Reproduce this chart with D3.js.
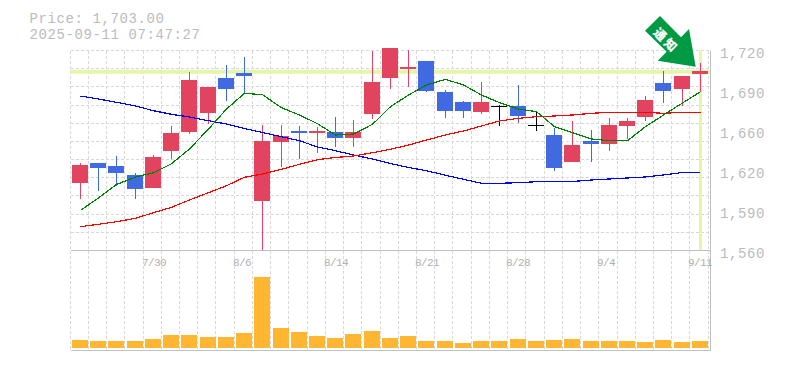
<!DOCTYPE html>
<html><head><meta charset="utf-8">
<script src="https://cdn.jsdelivr.net/npm/d3@7/dist/d3.min.js"></script>
<style>html,body{margin:0;padding:0;background:#fff}svg{display:block}
text{font-family:"Liberation Mono",monospace;fill:#bbbbbb}</style></head>
<body><svg id="c" width="785" height="370"></svg>
<script>
// Values (prices in yen)
const px2p = y => 1560 + (250.5 - y) / 1.25;
const openPx  = [183,162.7,166,175,188,151,132,112.7,78,73,201,142,131,133,132,138,114,78,69,61,92,102,112,106,106,125.3,135,162,141,144,126,117,83,89,74];
const closePx = [165,168,173,189,157,133,80,87,89,76,141,136,133,131,138,132,82,48,67,91,111,111,102,106,116,125.3,168,145,144,125,121,100,91,76,71];
const highPx  = [162.7,162.7,156,173,155,126,71.7,87,65,56.7,125,125,126,127,117,120,51,40,50,61,90,101,82,105,85,111,128,121,130,118,118,96,71,76,63];
const lowPx   = [199,191,186,199,188,159,133.7,124,100.7,93.3,250,166.7,159,153,147,147,119,89,87,92,118,118,114,126,122.7,131,171,162,162,151,139,121,103,106,91.7];
const maShortPx = [210.3,198,184.5,177,172.7,163.7,149,129,109,93.3,94.7,107.7,115,123.7,135,134,124.3,106.7,95,85,79.3,85,95,102.7,109,111.7,126.7,132.7,139,140.7,140.7,126.7,115,103,91.7];
const maMidPx   = [226.7,224.3,221.7,218.3,212.7,207.3,200,192.7,185.7,177.3,174,169.3,164.3,159.7,157.5,156,152.7,149.3,145,140,135,131,126,121,118.3,116.7,116,115,113.3,112.3,112.3,112.3,113.3,112.3,112.3];
const maLongPx  = [96,99,102.3,106,110.7,114.3,117,120.7,124,128.5,132.5,136.7,140.7,147,150.7,155,159,163.5,167.5,170.7,175.3,179.3,183.3,183.3,182.7,181.7,181.5,181.5,180,179,178,177,175,172.5,172.3];
const open = openPx.map(px2p), close = closePx.map(px2p), high = highPx.map(px2p), low = lowPx.map(px2p);
const maShort = maShortPx.map(px2p), maMid = maMidPx.map(px2p), maLong = maLongPx.map(px2p);
const volume = [8,7,7,7,9,13,13,11,11,15,71,20,16,12,10,14,17,10,12,7,7,5,7,7,9,7,8,9,7,7,7,6,8,6,7];
const xTickIdx = [4,9,14,19,24,29,34];
const xTickLabels = ["7/30","8/6","8/14","8/21","8/28","9/4","9/11"];
const yTickVals = [1720,1688,1656,1624,1592,1560];
const yTickLabels = ["1,720","1,690","1,660","1,620","1,590","1,560"];
const lastPrice = 1703;
const titleLines = ["Price: 1,703.00","2025-09-11 07:47:27"];
const badgeText = ["通","知"];

const C = {up:"#E2445F",down:"#4169E1",flat:"#000",grid:"#d8d8d8",axis:"#c0c0c0",hl:"#E5F6A8",vol:"#FFB733",
  short:"#008000",mid:"#ff0000",long:"#0000ff",badge:"#009944"};
const L=70.5,T=50.5,B=250.5,VB=350.5,AX=710.5;
const svg=d3.select("#c");
const idx=d3.range(close.length);
const xLeft=d3.scaleLinear().domain([0,34]).range([72.45,692.44]);
const barX=i=>Math.floor(xLeft(i));
const cx=i=>barX(i)+8.5;
const y=d3.scaleLinear().domain([1560,1720]).range([B,T]);
const yVol=d3.scaleLinear().domain([0,71]).range([348,277]);
const gridXs=d3.scaleLinear().domain([0,35]).range([70.1,708.2]);
const gridX=i=>Math.floor(gridXs(i))+0.5;
const gridY=d3.scaleLinear().domain([0,11]).range([T,B]);

// grid
const g=svg.append("g").attr("stroke",C.grid).attr("stroke-dasharray","3,2").attr("shape-rendering","crispEdges");
g.selectAll(".v").data(d3.range(36)).join("line").attr("x1",gridX).attr("x2",gridX).attr("y1",T).attr("y2",VB);
g.selectAll(".h").data(d3.range(11)).join("line").attr("y1",gridY).attr("y2",gridY).attr("x1",L).attr("x2",AX);

// highlight
svg.append("line").attr("x1",L).attr("x2",AX).attr("y1",y(lastPrice)).attr("y2",y(lastPrice)).attr("stroke",C.hl).attr("stroke-width",4);
svg.append("line").attr("x1",cx(34)).attr("x2",cx(34)).attr("y1",T).attr("y2",B).attr("stroke",C.hl).attr("stroke-width",3);

// frame
const fr=svg.append("g").attr("stroke",C.axis).attr("shape-rendering","crispEdges");
fr.append("line").attr("x1",L).attr("x2",AX).attr("y1",B).attr("y2",B);
fr.append("line").attr("x1",L).attr("x2",AX).attr("y1",VB).attr("y2",VB);
fr.append("line").attr("x1",AX).attr("x2",AX).attr("y1",T).attr("y2",VB);

// volume
svg.append("g").attr("shape-rendering","crispEdges").selectAll("rect").data(idx).join("rect")
 .attr("x",barX).attr("width",16)
 .attr("y",i=>yVol(volume[i])).attr("height",i=>348-yVol(volume[i])).attr("fill",C.vol);

// candles, clipped at the top like the reference
svg.append("clipPath").attr("id","pc").append("rect").attr("x",L).attr("y",48).attr("width",AX-L).attr("height",B-48);
const pane=svg.append("g").attr("clip-path","url(#pc)");
const col=i=>close[i]>open[i]?C.up:close[i]<open[i]?C.down:C.flat;
const cg=pane.append("g").attr("shape-rendering","crispEdges");
cg.selectAll(".w").data(idx).join("line").attr("x1",cx).attr("x2",cx)
  .attr("y1",i=>y(high[i])).attr("y2",i=>y(low[i])).attr("stroke",col);
cg.selectAll(".b").data(idx).join("rect").attr("x",barX).attr("width",16)
  .attr("y",i=>Math.min(y(open[i]),y(close[i])))
  .attr("height",i=>Math.max(1,Math.abs(y(open[i])-y(close[i])))).attr("fill",col);

// moving averages
const ln=s=>d3.line().x(i=>cx(i)).y(i=>y(s[i]))(idx);
[[maLong,C.long],[maMid,C.mid],[maShort,C.short]].forEach(([s,c])=>
  pane.append("path").attr("d",ln(s)).attr("fill","none").attr("stroke",c).attr("stroke-width",1.2).attr("shape-rendering","crispEdges"));

// axes labels
svg.append("g").selectAll("text").data(yTickVals).join("text")
  .attr("x",720).attr("y",d=>y(d)+7).attr("font-size",14).attr("letter-spacing",0.6).text((d,i)=>yTickLabels[i]);
svg.append("g").selectAll("text").data(xTickIdx).join("text")
  .attr("x",d=>gridX(d)-1.5).attr("y",266).attr("font-size",11).attr("letter-spacing",-0.6).style("fill","#b0b0b0").text((d,i)=>xTickLabels[i]);
svg.append("g").selectAll("text").data(titleLines).join("text")
  .attr("x",29.5).attr("y",(d,i)=>22.5+i*16).attr("font-size",14).attr("letter-spacing",0.6).text(d=>d);

// badge
const arrow=[[660,16],[645,30.7],[666.7,51.7],[657.7,60.7],[695.7,66.7],[689,29],[681,37.3]];
svg.append("polygon").attr("points",arrow.join(" ")).attr("fill",C.badge);
svg.append("g").selectAll("text").data(badgeText).join("text")
  .attr("transform",(d,i)=>`translate(${661+i*10.3},${33.7+i*10.3}) rotate(45)`)
  .attr("text-anchor","middle").attr("dominant-baseline","central")
  .style("font-family","'Noto Sans CJK JP'").style("font-weight","700").style("fill","#fff")
  .style("stroke","#fff").style("stroke-width",0.3)
  .attr("font-size",12).text(d=>d);
</script></body></html>
